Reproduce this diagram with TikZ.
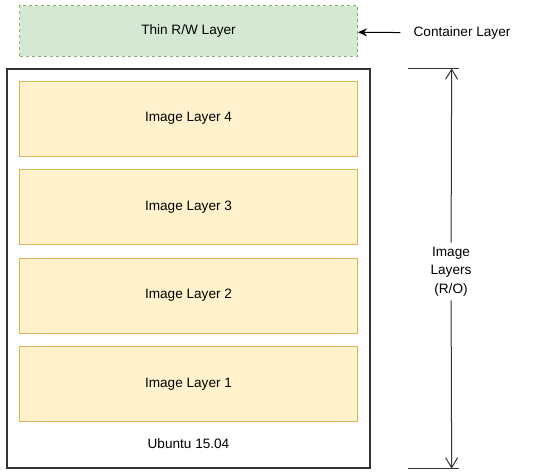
\documentclass[tikz,border=0pt]{standalone}
\usepackage{fontspec}
\setmainfont{Liberation Sans}
\usepackage{xcolor}
\usetikzlibrary{arrows.meta,positioning}

\definecolor{rwfill}{HTML}{D5E8D4}
\definecolor{rwdraw}{HTML}{82B366}
\definecolor{imgfill}{HTML}{FFF2CC}
\definecolor{imgdraw}{HTML}{D6B656}
\definecolor{basedraw}{HTML}{333333}

\begin{document}
\begin{tikzpicture}[
  x=1pt, y=-1pt,
  node distance=12.5pt,
  font=\fontsize{13.6}{17}\selectfont,
  layer/.style={minimum width=338pt, minimum height=75pt, line width=1pt, inner sep=0pt},
  rwbox/.style={layer, minimum height=50.5pt, draw=rwdraw, fill=rwfill, dash pattern=on 3pt off 3pt},
  imgbox/.style={layer, draw=imgdraw, fill=imgfill},
  basebox/.style={draw=basedraw, line width=1.3pt, minimum width=363pt, minimum height=399pt, inner sep=0pt},
  line/.style={-{Stealth[length=9pt, width=8pt]}, draw=black, line width=1pt},
  dim/.style={-{Straight Barb[length=10pt, width=12pt]}, draw=basedraw, line width=1pt},
  tick/.style={draw=basedraw, line width=1pt}
]
\useasboundingbox (0,0) rectangle (533,475);

\node[rwbox] (rwlayer) at (188.5,31) {Thin R/W Layer};
\node[inner xsep=13pt] (container) at (462,33) {Container Layer};
\draw[line] (container) -- (rwlayer);

\node[basebox] (base) at (188.5,268.5) {};
\node[imgbox] (layer4) at (188.5,118.5) {Image Layer 4};
\node[imgbox, below=of layer4] (layer3) {Image Layer 3};
\node[imgbox, below=of layer3] (layer2) {Image Layer 2};
\node[imgbox, below=of layer2] (layer1) {Image Layer 1};
\node[inner sep=0pt, above=19.5pt of base.south] (ubuntu) {Ubuntu 15.04};

% read-only span
\coordinate (dimtop) at ([xshift=81pt]base.north east);
\coordinate (dimbot) at ([xshift=81pt]base.south east);
\draw[tick] ([xshift=-44pt]dimtop) -- ([xshift=7pt]dimtop);
\draw[tick] ([xshift=-44pt]dimbot) -- ([xshift=7pt]dimbot);
\node[align=center, inner xsep=2pt, inner ysep=4pt, font=\fontsize{13.6}{18.5}\selectfont] (rolabel) at (451,271.5) {Image\\Layers\\(R/O)};
\draw[dim] (rolabel) -- (dimtop);
\draw[dim] (rolabel) -- (dimbot);
\end{tikzpicture}
\end{document}
